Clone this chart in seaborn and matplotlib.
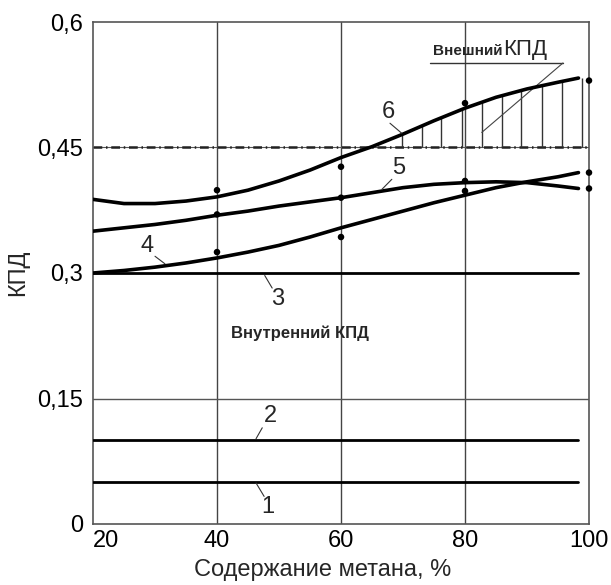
import numpy as np
import pandas as pd
import matplotlib
matplotlib.use("Agg")
import matplotlib.pyplot as plt
import seaborn as sns

# ---- data ----
x_curve = [20, 25, 30, 35, 40, 45, 50, 55, 60, 65, 70, 75, 80, 85, 90, 95, 98.3]
curve4 = [0.300, 0.303, 0.307, 0.312, 0.318, 0.325, 0.333, 0.343, 0.354, 0.364, 0.374, 0.384, 0.393, 0.402, 0.409, 0.415, 0.420]
curve5 = [0.350, 0.354, 0.358, 0.363, 0.369, 0.374, 0.380, 0.385, 0.390, 0.396, 0.402, 0.406, 0.408, 0.409, 0.408, 0.404, 0.401]
curve6 = [0.388, 0.383, 0.383, 0.386, 0.391, 0.399, 0.410, 0.423, 0.438, 0.451, 0.466, 0.482, 0.497, 0.510, 0.520, 0.528, 0.533]

x_dots = [40, 60, 80, 100]
dots4 = [0.325, 0.343, 0.398, 0.420]
dots5 = [0.370, 0.390, 0.410, 0.401]
dots6 = [0.399, 0.427, 0.503, 0.530]

x_flat = [20, 98.3]
line1 = [0.05, 0.05]
line2 = [0.10, 0.10]
line3 = [0.30, 0.30]
outer_level = 0.45

hatch_x = [69.8, 73.0, 76.2, 79.5, 82.7, 85.9, 89.1, 92.4, 95.6, 98.8]

x_ticks = [20, 40, 60, 80, 100]
x_ticklabels = ["20", "40", "60", "80", "100"]
y_ticks = [0, 0.15, 0.3, 0.45, 0.6]
y_ticklabels = ["0", "0,15", "0,3", "0,45", "0,6"]

xlabel = "Содержание метана, %"
ylabel = "КПД"

# ---- plotting ----
sns.set_theme(style="white")
plt.rcParams["font.family"] = ["Liberation Sans", "DejaVu Sans"]

fig = plt.figure(figsize=(6.11, 5.85), dpi=100)
ax = fig.add_axes([93 / 611, 61 / 585, 496 / 611, 502 / 585])

ax.set_xlim(20, 100)
ax.set_ylim(0, 0.6)

# grid
for gx in [40, 60, 80]:
    ax.axvline(gx, color="#444444", lw=1.0, zorder=1)
ax.axhline(0.15, color="#555555", lw=1.0, zorder=1)
ax.axhline(outer_level, color="#555555", lw=0.8, zorder=1)
ax.axhline(outer_level, color="#222222", lw=1.8, ls=(0, (3.5, 1.5, 0.6, 1.5)), zorder=2)

# hatch lines (external efficiency)
hatch_top = np.interp(hatch_x, x_curve, curve6)
ax.vlines(hatch_x, outer_level, hatch_top, color="#333333", lw=1.0, zorder=2)

# flat lines
df_flat = pd.DataFrame({"x": x_flat * 3, "y": line1 + line2 + line3,
                        "s": ["1"] * 2 + ["2"] * 2 + ["3"] * 2})
sns.lineplot(data=df_flat, x="x", y="y", units="s", estimator=None, color="black",
             lw=2.0, ax=ax, zorder=3)

# curves
df_c = pd.DataFrame({"x": x_curve * 3, "y": curve4 + curve5 + curve6,
                     "s": ["4"] * len(x_curve) + ["5"] * len(x_curve) + ["6"] * len(x_curve)})
sns.lineplot(data=df_c, x="x", y="y", units="s", estimator=None, color="black",
             lw=2.6, ax=ax, zorder=4)

# dots
df_d = pd.DataFrame({"x": x_dots * 3, "y": dots4 + dots5 + dots6})
sns.scatterplot(data=df_d, x="x", y="y", color="black", s=22, edgecolor="none",
                ax=ax, zorder=5, clip_on=False)

# curve labels and leaders
fs = 17
labels = [
    ("6", (67.6, 0.492), (67.9, 0.479), (69.8, 0.467)),
    ("5", (69.3, 0.426), (68.2, 0.412), (66.6, 0.400)),
    ("4", (28.7, 0.332), (30.0, 0.320), (31.6, 0.311)),
    ("3", (49.8, 0.269), (47.7, 0.297), (48.9, 0.282)),
    ("2", (48.6, 0.129), (47.3, 0.115), (46.3, 0.102)),
    ("1", (48.2, 0.020), (47.6, 0.033), (46.3, 0.049)),
]
for t, pos, a, b in labels:
    ax.text(pos[0], pos[1], t, fontsize=fs, ha="center", va="center", zorder=6)
    ax.plot([a[0], b[0]], [a[1], b[1]], color="#333333", lw=0.8, zorder=6)

ax.text(53.3, 0.228, "Внутренний КПД", fontsize=12, fontweight="bold",
        ha="center", va="center")

ax.text(86.1, 0.565, "Внешний", fontsize=11, fontweight="bold", ha="right", va="center")
ax.text(86.2, 0.567, "КПД", fontsize=16, ha="left", va="center")
ax.plot([74.4, 95.8], [0.551, 0.551], color="#333333", lw=1.0)
ax.plot([95.8, 82.7], [0.551, 0.468], color="#444444", lw=0.8)

# axes styling
ax.set_xticks(x_ticks)
ax.set_xticklabels(x_ticklabels)
ax.set_yticks(y_ticks)
ax.set_yticklabels(y_ticklabels)
ax.tick_params(axis="both", length=0, labelsize=17, colors="black")
ax.tick_params(axis="x", pad=4)
ax.tick_params(axis="y", pad=7)
ax.get_xticklabels()[0].set_horizontalalignment("left")

ax.set_xlabel(xlabel, fontsize=17)
ax.xaxis.set_label_coords(0.462, -0.07)
ax.set_ylabel(ylabel, fontsize=17, labelpad=6)

for sp in ax.spines.values():
    sp.set_color("#555555")
    sp.set_linewidth(1.2)
    sp.set_visible(True)

fig.savefig("out.png", dpi=100)
